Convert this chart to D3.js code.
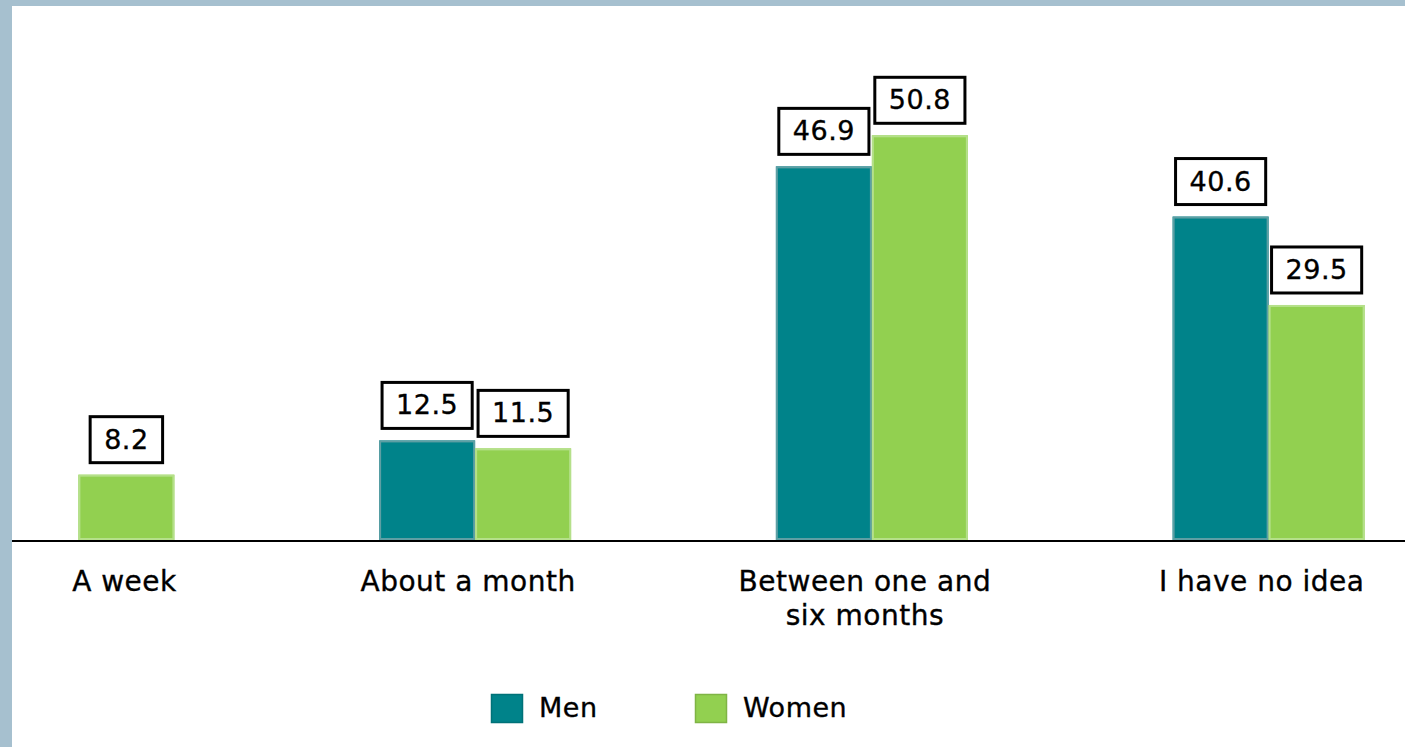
<!DOCTYPE html>
<html>
<head>
<meta charset="utf-8">
<script src="https://cdn.jsdelivr.net/npm/d3@7/dist/d3.min.js"></script>
<style>
  html, body { margin: 0; padding: 0; background: #fff; }
  svg { display: block; font-family: "DejaVu Sans", Verdana, sans-serif; }
  svg text { stroke: #000; stroke-width: 0.35px; }
</style>
</head>
<body>
<svg id="chart" width="1405" height="747"></svg>
<script>
// How long people expect to wait, by gender (percent)
const categories = ["A week", "About a month", "Between one and six months", "I have no idea"];
const seriesNames = ["Men", "Women"];
const menValues = [null, 12.5, 46.9, 40.6];
const womenValues = [8.2, 11.5, 50.8, 29.5];

const colors = { Men: "#00838A", Women: "#92D050" };
const edgeColors = { Men: "#5E9FA4", Women: "#B5E08A" };

const W = 1405, H = 747;
const baseY = 540;
const frameLeft = 12, frameTop = 6;

const svg = d3.select("#chart");

// Frame strips along the top and left edges
svg.append("rect").attr("x", 0).attr("y", 0).attr("width", W).attr("height", frameTop).attr("fill", "#A6C0CF");
svg.append("rect").attr("x", 0).attr("y", 0).attr("width", frameLeft).attr("height", H).attr("fill", "#A6C0CF");

const rows = categories.map((c, i) => ({ cat: c, Men: menValues[i], Women: womenValues[i] }));

const x = d3.scaleBand().domain(categories).range([-120, 1467]);
const xs = d3.scaleBand().domain(seriesNames).range([0, 192]);
const y = d3.scaleLinear().domain([0, 60]).range([baseY, 62]);

const groups = svg.append("g").selectAll("g")
  .data(rows).join("g")
  .attr("transform", d => `translate(${x(d.cat) + x.bandwidth() / 2 - 96},0)`);

const bars = groups.selectAll("g.bar")
  .data(d => seriesNames.filter(s => d[s] != null).map(s => ({ s, v: d[s] })))
  .join("g").attr("class", "bar");

bars.append("rect")
  .attr("x", d => xs(d.s))
  .attr("y", d => y(d.v))
  .attr("width", xs.bandwidth())
  .attr("height", d => baseY - y(d.v))
  .attr("fill", d => colors[d.s]);

bars.append("rect")
  .attr("x", d => xs(d.s) + 1)
  .attr("y", d => y(d.v) + 1)
  .attr("width", xs.bandwidth() - 2)
  .attr("height", d => baseY - y(d.v) - 2)
  .attr("fill", "none")
  .attr("stroke", d => edgeColors[d.s])
  .attr("stroke-width", 2);

// Value callouts: boxed numbers above each bar
bars.each(function (d) {
  const g = d3.select(this);
  const cx = xs(d.s) + xs.bandwidth() / 2;
  const t = g.append("text")
    .attr("x", cx)
    .attr("text-anchor", "middle")
    .attr("font-size", 27)
    .attr("letter-spacing", 0.5)
    .attr("fill", "#000")
    .text(d.v.toFixed(1));
  const tw = t.node().getComputedTextLength();
  const bw = tw + 28, bh = 46;
  const by = y(d.v) - 12 - bh;
  g.insert("rect", "text")
    .attr("x", cx - bw / 2)
    .attr("y", by)
    .attr("width", bw)
    .attr("height", bh)
    .attr("fill", "#fff")
    .attr("stroke", "#000")
    .attr("stroke-width", 3);
  t.attr("y", by + bh / 2 + 9);
});

// Baseline
svg.append("line")
  .attr("x1", frameLeft).attr("x2", W)
  .attr("y1", baseY + 1).attr("y2", baseY + 1)
  .attr("stroke", "#000").attr("stroke-width", 2);

// Category labels, wrapped and kept inside the plot area
function wrapLines(text, maxW, size) {
  const probe = svg.append("text").attr("font-size", size).attr("letter-spacing", 0.5);
  const words = text.split(" ");
  const lines = [];
  let cur = "";
  words.forEach(w => {
    const trial = cur ? cur + " " + w : w;
    probe.text(trial);
    if (probe.node().getComputedTextLength() > maxW && cur) {
      lines.push(cur);
      cur = w;
    } else cur = trial;
  });
  if (cur) lines.push(cur);
  probe.remove();
  return lines;
}

categories.forEach(c => {
  const lines = wrapLines(c, 265, 28);
  const t = svg.append("text")
    .attr("font-size", 28)
    .attr("letter-spacing", 0.5)
    .attr("fill", "#000")
    .attr("text-anchor", "middle");
  lines.forEach((ln, i) => {
    t.append("tspan").attr("dy", i === 0 ? 0 : 34).text(ln);
  });
  const w = t.node().getBBox().width;
  const cx = Math.max(x(c) + x.bandwidth() / 2 - 7, frameLeft + 60 + w / 2);
  t.attr("y", 591);
  t.selectAll("tspan").attr("x", cx);
});

// Legend
const legendX = [491, 695];
const legend = svg.append("g").selectAll("g")
  .data(seriesNames).join("g")
  .attr("transform", (d, i) => `translate(${legendX[i]},694)`);
legend.append("rect")
  .attr("x", 0.5).attr("y", 0.5)
  .attr("width", 31).attr("height", 28)
  .attr("fill", d => colors[d])
  .attr("stroke", d => d3.color(colors[d]).darker(0.4))
  .attr("stroke-width", 1.5);
legend.append("text")
  .attr("x", 48).attr("y", 23)
  .attr("font-size", 27)
  .attr("letter-spacing", 0.5)
  .attr("fill", "#000")
  .text(d => d);
</script>
</body>
</html>
